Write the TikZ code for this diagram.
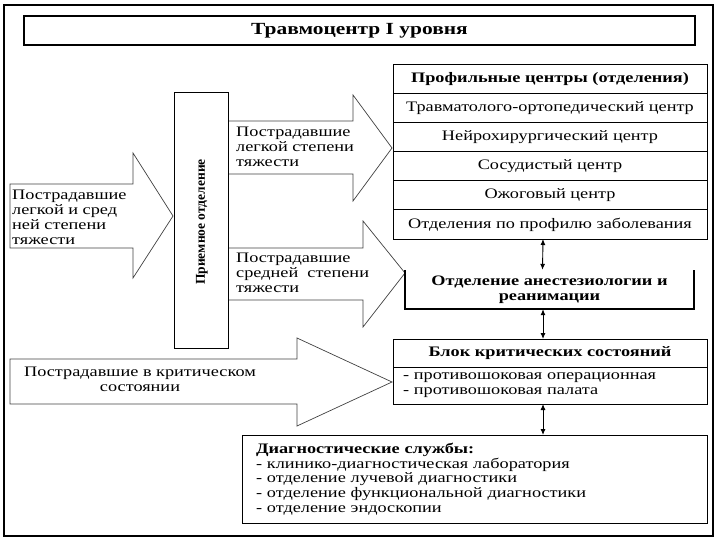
\documentclass[tikz,border=0pt]{standalone}
\usepackage{fontspec}
\setmainfont[FakeStretch=1.26]{Liberation Serif}
\newfontfamily\serifdroit{Liberation Serif}
\usetikzlibrary{arrows.meta,positioning}

\begin{document}
\begin{tikzpicture}[x=1pt,y=-1pt,
    boite/.style={draw,line width=1pt,outer sep=0pt,inner sep=0pt},
    rang/.style={boite,minimum width=314pt,minimum height=29pt,font=\fontsize{14.5}{15}\selectfont},
    fleche/.style={draw=black!75,line width=0.7pt,line join=miter},
    etiq/.style={inner sep=0pt,align=left,font=\fontsize{14.5}{15}\selectfont},
    dbl/.style={{Latex[length=6pt,width=5pt]}-{Latex[length=6pt,width=5pt]},line width=0.9pt}]

    \useasboundingbox (0,0) rectangle (720,540);

    % Cadre et titre
    \draw[line width=1.3pt] (4,5) rectangle (713,536);
    \node[boite,line width=1.3pt,minimum width=671pt,minimum height=29pt,
          font=\fontsize{17}{18}\selectfont\bfseries] (titre) at (359.5,30.5) {Травмоцентр I уровня};

    % Flèches
    \draw[fleche] (10,184) -- (133,184) -- (133,153) -- (173,216) -- (133,278) -- (133,248) -- (10,248) -- cycle;
    \draw[fleche] (228,121) -- (353,121) -- (353,95) -- (392,148) -- (353,201) -- (353,174) -- (228,174);
    \draw[fleche] (228,248) -- (363,248) -- (363,221) -- (405,273) -- (363,327) -- (363,300) -- (228,300);
    \draw[fleche] (10,359) -- (297,359) -- (297,338) -- (392,382) -- (297,426) -- (297,404) -- (10,404) -- cycle;

    % Textes des flèches
    \node[etiq,anchor=west] (tA) at (12,217) {Пострадавшие\\легкой и сред\\ней степени\\тяжести};
    \node[etiq,anchor=west] (tB) at (236,147) {Пострадавшие\\легкой степени\\тяжести};
    \node[etiq,anchor=west] (tC) at (236,273) {Пострадавшие\\средней\ \ степени\\тяжести};
    \node[etiq,align=center] (tD) at (140,379) {Пострадавшие в критическом\\состоянии};

    % Приемное отделение
    \node[boite,minimum width=54pt,minimum height=255pt] (recep) at (201,220.5) {};
    \node[rotate=90,inner sep=0pt,font=\serifdroit\fontsize{13.5}{13.5}\selectfont\bfseries]
        (receptexte) at (202,222) {Приемное отделение};

    % Профильные центры
    \node[rang,font=\fontsize{14.5}{15}\selectfont\bfseries] (r0) at (550,79.5) {Профильные центры (отделения)};
    \foreach \t [count=\i] in {Травматолого-ортопедический центр,Нейрохирургический центр,
        Сосудистый центр,Ожоговый центр,Отделения по профилю заболевания}
        \node[rang] (r\i) at (550,79.5+29*\i) {\t};

    % Анестезиология
    \node[minimum width=289pt,minimum height=39pt,inner sep=0pt,align=center,
          font=\fontsize{14.5}{14.5}\selectfont\bfseries] (anes) at (549.5,289.5) {Отделение анестезиологии и\\реанимации};
    \draw[line width=1.8pt] (anes.north west) -- (anes.south west) -- (anes.south east) -- (anes.north east);

    % Блок критических состояний
    \node[boite,minimum width=314pt,minimum height=28pt,font=\fontsize{14.5}{15}\selectfont\bfseries]
        (bloc) at (550,353) {Блок критических состояний};
    \node[boite,minimum width=314pt,minimum height=37pt,text width=294pt,inner xsep=10pt,align=left,
          font=\fontsize{14.5}{15}\selectfont,below=0pt of bloc] (blocliste)
        {- противошоковая операционная\\- противошоковая палата};

    % Диагностические службы
    \node[boite,minimum width=465pt,minimum height=88pt,text width=437pt,inner xsep=14pt,align=left,
          font=\fontsize{14.5}{14.75}\selectfont] (diag) at (474.5,479)
        {\textbf{Диагностические службы:}\\- клинико-диагностическая лаборатория\\- отделение лучевой диагностики\\- отделение функциональной диагностики\\- отделение эндоскопии};

    % Liaisons
    \draw[dbl] ([xshift=-7pt]r5.south) -- ([xshift=-7pt]anes.north);
    \draw[dbl] ([xshift=-6.5pt]anes.south) -- ([xshift=-7pt]bloc.north);
    \draw[dbl] ([xshift=-7pt]blocliste.south) -- ([xshift=-7pt]blocliste.south |- diag.north);

\end{tikzpicture}
\end{document}
